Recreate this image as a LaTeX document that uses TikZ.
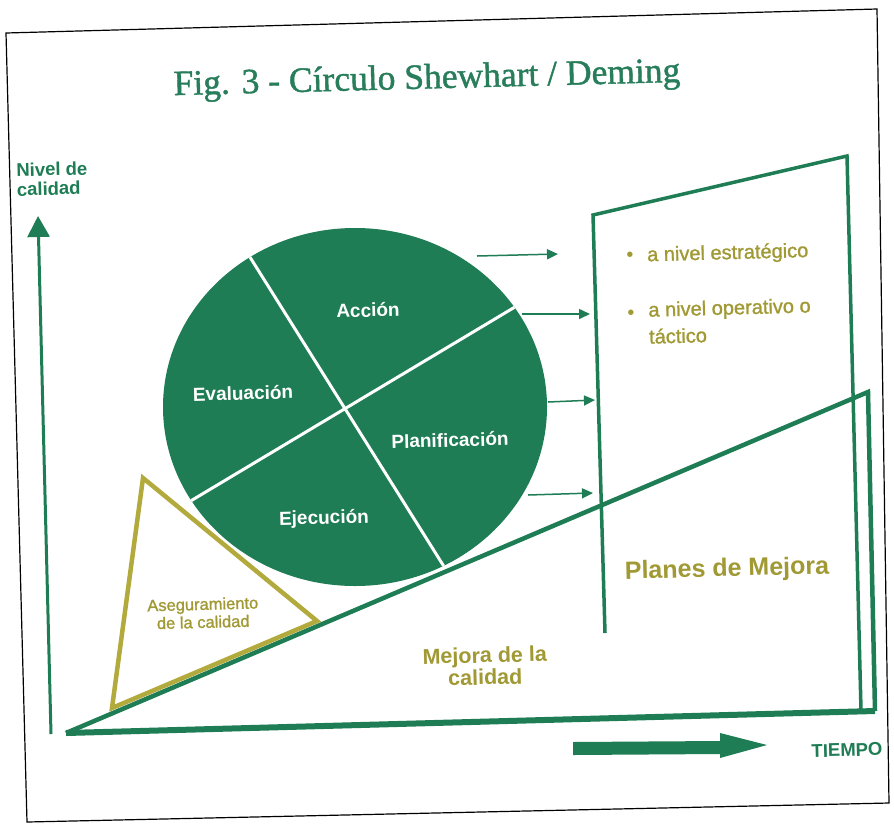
\documentclass[tikz,border=0pt]{standalone}
\usepackage{fontspec}
\setmainfont{Liberation Serif}
\newfontfamily\titlefont[FakeBold=1.2]{Liberation Serif}
\newfontfamily\arial{Liberation Sans}
\newfontfamily\arialm[FakeBold=1.2]{Liberation Sans}
\usetikzlibrary{arrows.meta,calc}
\definecolor{dg}{RGB}{31,125,85}
\definecolor{tg}{RGB}{40,125,90}
\definecolor{ol}{RGB}{178,170,60}
\definecolor{olt}{RGB}{160,153,52}
\begin{document}
\begin{tikzpicture}[x=1pt,y=-1pt,
  thinarrow/.style={draw=dg, line width=1.5pt, -{Triangle[width=10pt,length=11pt]}},
  seglabel/.style={text=white, font=\arial\bfseries\fontsize{19}{22}\selectfont, rotate=1.5, inner sep=0pt},
  oltext/.style={text=olt, rotate=1.5, inner sep=0pt},
  gtext/.style={text=dg, rotate=1.5, inner sep=0pt}]
\useasboundingbox (0,0) rectangle (894,823);
\fill[white] (0,0) rectangle (894,823);

% outer frame
\draw[black, line width=1.2pt] (6,33) -- (877,9) -- (889,803) -- (27,822) -- cycle;

% title
\node[text=tg, font=\titlefont\fontsize{35.5}{40}\selectfont, rotate=1.5, inner sep=0pt] (title) at (427,80) {Fig. 3 - Círculo Shewhart / Deming};

% y axis
\coordinate (ybot) at (51,734);
\coordinate (ytop) at (38,216);
\draw[draw=dg, line width=3pt, -{Triangle[width=22pt,length=21pt]}] (ybot) -- (ytop);
\node[gtext, anchor=north west, align=left, font=\arial\bfseries\fontsize{18.5}{19.5}\selectfont] (nivel) at (16,163) {Nivel de\\calidad};

% box of Planes de Mejora
\coordinate (b1) at (605,633);
\coordinate (b2) at (593,215);
\coordinate (b3) at (847,156);
\coordinate (b4) at (861,710);
\draw[draw=dg, line width=3.5pt, line join=miter] (b1) -- (b2) -- (b3) -- (b4);

% big triangle
\coordinate (o) at (66,733);
\coordinate (apex) at (868,392);
\coordinate (br) at (875,711);
\draw[draw=dg, line width=4.5pt, line join=miter] (o) -- (apex) -- (br);
\draw[draw=dg, line width=6pt] (o) -- (br);

% circle
\coordinate (cc) at (345,408);
\fill[dg] (355,407) ellipse [x radius=192, y radius=179];
\begin{scope}
\clip (355,407) ellipse [x radius=192, y radius=179];
\draw[white, line width=3pt] ($(cc)!1.3!(250,257)$) -- ($(cc)!1.3!(445,568)$);
\draw[white, line width=3pt] ($(cc)!1.3!(192,500)$) -- ($(cc)!1.3!(513,308)$);
\end{scope}
\node[seglabel] (accion) at (368,310) {Acción};
\node[seglabel] (eval) at (243,393) {Evaluación};
\node[seglabel] (plan) at (450,440) {Planificación};
\node[seglabel] (ejec) at (324,519) {Ejecución};

% thin arrows
\coordinate (a1s) at (477,256); \coordinate (a1e) at (558,254);
\coordinate (a2s) at (522,314); \coordinate (a2e) at (590,314);
\coordinate (a3s) at (548,402); \coordinate (a3e) at (595,400);
\coordinate (a4s) at (528,495); \coordinate (a4e) at (593,493);
\draw[thinarrow] (a1s) -- (a1e);
\draw[thinarrow] (a2s) -- (a2e);
\draw[thinarrow] (a3s) -- (a3e);
\draw[thinarrow] (a4s) -- (a4e);

% olive triangle
\coordinate (t1) at (143,478);
\coordinate (t2) at (317,621);
\coordinate (t3) at (112,708);
\draw[draw=ol, line width=4.5pt, line join=miter, miter limit=20] (t1) -- (t2) -- (t3) -- cycle;
\node[oltext, align=center, font=\arialm\fontsize{16.5}{18}\selectfont] (aseg) at (203,613) {Aseguramiento\\de la calidad};

% texts in the right part
\node[oltext, font=\arial\fontsize{20}{20}\selectfont] (bul1) at (630,257) {•};
\node[oltext, font=\arial\fontsize{20}{20}\selectfont] (bul2) at (631,315) {•};
\node[oltext, anchor=west, font=\arialm\fontsize{20}{24}\selectfont] (estr) at (647,256) {a nivel estratégico};
\node[oltext, anchor=north west, align=left, font=\arialm\fontsize{20}{27}\selectfont] (oper) at (648,302) {a nivel operativo o\\táctico};
\node[oltext, font=\arial\bfseries\fontsize{25}{28}\selectfont] (planes) at (727,570) {Planes de Mejora};
\node[oltext, align=center, font=\arial\bfseries\fontsize{21.5}{22}\selectfont] (mejora) at (485,666) {Mejora de la\\calidad};

% time arrow
\fill[dg] (573,742) -- (720,741) -- (720,733) -- (767,745) -- (720,758) -- (720,754) -- (573,755) -- cycle;
\node[gtext, font=\arial\bfseries\fontsize{18.5}{22}\selectfont] (tiempo) at (847,750) {TIEMPO};
\end{tikzpicture}
\end{document}
